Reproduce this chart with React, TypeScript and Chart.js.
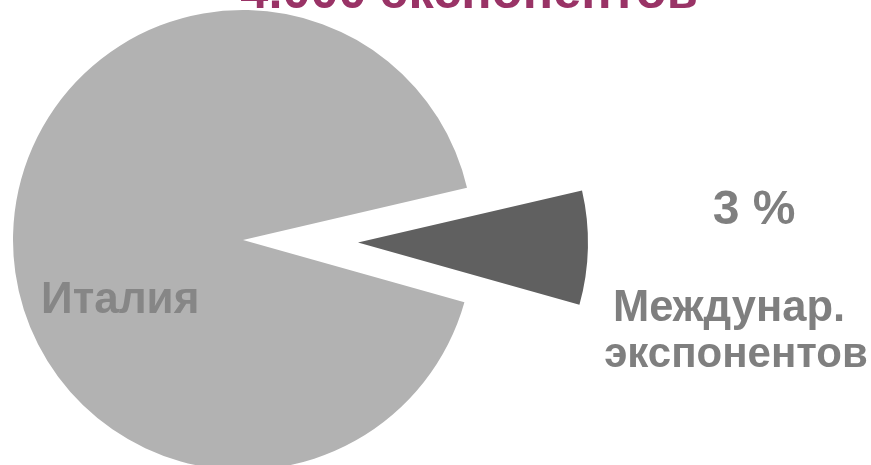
import React, { useEffect, useRef } from "react";
import { Chart, registerables } from "chart.js";

Chart.register(...registerables);

// ---- data ----
const categories = ["Италия", "Междунар. экспонентов"];
const shares = [92, 8];
const sliceColors = ["#b2b2b2", "#606060"];
const titleText = "4.000 экспонентов";
const insideLabel = "Италия";
const percentLabel = "3 %";
const outsideLabelLines = ["Междунар.", "экспонентов"];

const W = 871;
const H = 465;
const FONT = '"Liberation Sans", Arial, sans-serif';

type Pad = { left: number; right: number; top: number; bottom: number };

function PieLayer({ shown, padding }: { shown: boolean[]; padding: Pad }) {
  const ref = useRef<HTMLCanvasElement>(null);
  useEffect(() => {
    if (!ref.current) return;
    const chart = new Chart(ref.current, {
      type: "pie",
      data: {
        labels: categories,
        datasets: [
          {
            data: shares,
            backgroundColor: sliceColors.map((c, i) => (shown[i] ? c : "rgba(0,0,0,0)")),
            borderWidth: 0,
          },
        ],
      },
      options: {
        responsive: false,
        animation: false,
        radius: 230,
        rotation: 105.7,
        layout: { padding },
        events: [],
        plugins: {
          legend: { display: false },
          tooltip: { enabled: false },
          title: { display: false },
        },
      } as any,
    });
    return () => chart.destroy();
  }, []);
  return (
    <canvas
      ref={ref}
      width={W}
      height={H}
      style={{ position: "absolute", left: 0, top: 0, width: W, height: H }}
    />
  );
}

const textBase: React.CSSProperties = {
  position: "absolute",
  fontFamily: FONT,
  fontWeight: "bold",
  lineHeight: 1,
  whiteSpace: "nowrap",
  margin: 0,
};

export default function App() {
  return (
    <div
      style={{
        position: "absolute",
        left: 0,
        top: 0,
        width: W,
        height: H,
        overflow: "hidden",
        background: "#ffffff",
      }}
    >
      {/* main slice, centre (243, 240) */}
      <PieLayer shown={[true, false]} padding={{ left: 0, right: 385, top: 15, bottom: 0 }} />
      {/* exploded slice, centre (358, 242.6) */}
      <PieLayer shown={[false, true]} padding={{ left: 0, right: 155, top: 20.2, bottom: 0 }} />

      <div
        style={{
          ...textBase,
          fontSize: 50.5,
          color: "#993366",
          left: 469,
          top: -34,
          transform: "translateX(-50%)",
        }}
      >
        {titleText}
      </div>

      <div style={{ ...textBase, fontSize: 44, color: "#868686", left: 41, top: 276 }}>
        {insideLabel}
      </div>

      <div
        style={{
          ...textBase,
          fontSize: 48,
          color: "#7f7f7f",
          left: 754,
          top: 184,
          transform: "translateX(-50%)",
        }}
      >
        {percentLabel}
      </div>

      <div
        style={{
          ...textBase,
          fontSize: 43.5,
          color: "#7f7f7f",
          left: 729,
          top: 285,
          transform: "translateX(-50%)",
        }}
      >
        {outsideLabelLines[0]}
      </div>
      <div
        style={{
          ...textBase,
          fontSize: 42,
          color: "#7f7f7f",
          left: 736,
          top: 332,
          transform: "translateX(-50%)",
        }}
      >
        {outsideLabelLines[1]}
      </div>
    </div>
  );
}
